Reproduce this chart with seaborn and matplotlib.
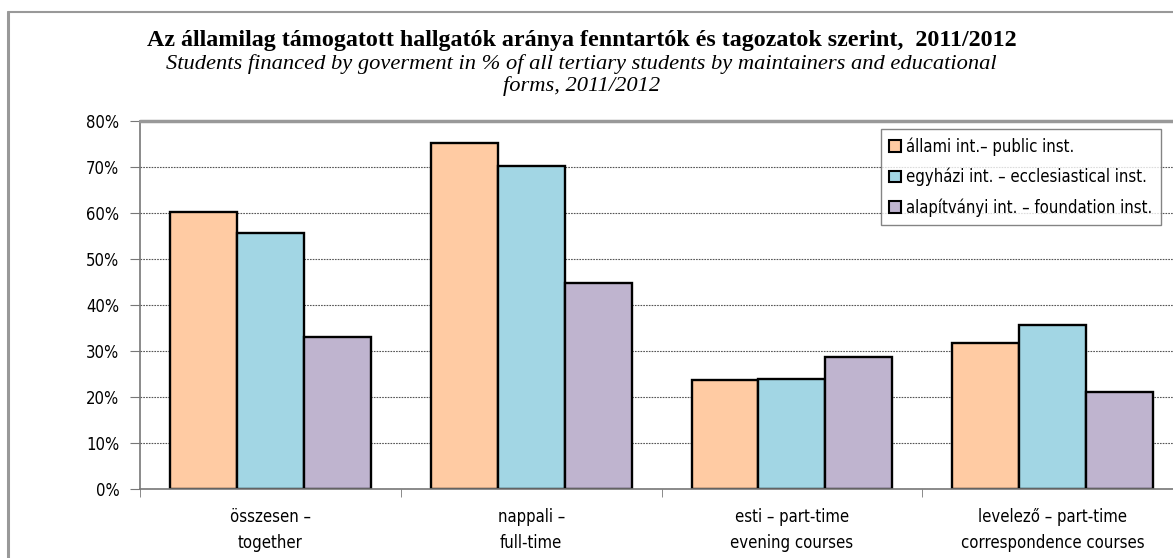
import os
import numpy as np
import pandas as pd
import matplotlib as mpl
mpl.use("Agg")
import matplotlib.pyplot as plt
from matplotlib import font_manager
from matplotlib.lines import Line2D
import seaborn as sns

sns.set_style("white")

# keskeny betűtípus keresése
cond = [f for f in font_manager.fontManager.ttflist
        if ("Condensed" in os.path.basename(f.fname) or "Narrow" in os.path.basename(f.fname))
        and f.style == "normal" and f.weight in (400, "normal", "regular")]
if cond:
    plt.rcParams['font.family'] = [cond[0].name, 'DejaVu Sans']
    plt.rcParams['font.stretch'] = cond[0].stretch
else:
    plt.rcParams['font.family'] = ['DejaVu Sans']
plt.rcParams['text.color'] = 'black'
plt.rcParams['xtick.color'] = 'black'
plt.rcParams['ytick.color'] = 'black'

# adatok
categories = ["összesen –\ntogether", "nappali –\nfull-time",
              "esti – part-time\nevening courses", "levelező – part-time\ncorrespondence courses"]
series = ["állami int.– public inst.", "egyházi int. – ecclesiastical inst.",
          "alapítványi int. – foundation inst."]
allami = [60.3, 75.3, 23.8, 31.7]
egyhazi = [55.8, 70.2, 23.9, 35.8]
alapitvanyi = [33.1, 44.8, 28.7, 21.1]
colors = ["#FFCBA3", "#A2D6E4", "#BFB4CF"]

df = pd.DataFrame({
    "cat": categories * 3,
    "ser": [series[0]] * 4 + [series[1]] * 4 + [series[2]] * 4,
    "val": allami + egyhazi + alapitvanyi,
})

fig = plt.figure(figsize=(11.73, 5.58), dpi=100)
ax = fig.add_axes([0.1195, 0.1237, 0.889, 0.6586])

sns.barplot(data=df, x="cat", y="val", hue="ser", palette=colors, saturation=1, width=0.77, gap=0,
            edgecolor="black", linewidth=1.7, ax=ax, legend=True, errorbar=None)

ax.set_xlim(-0.5, 3.5)
ax.set_ylim(0, 80)
ax.set_yticks(np.arange(0, 81, 10))
ax.set_yticklabels([f"{v}%" for v in range(0, 81, 10)], fontsize=12)
ax.yaxis.grid(True, linestyle=(0, (1.5, 1)), color="#555555", linewidth=0.8)
ax.set_axisbelow(True)
ax.set_xlabel("")
ax.set_ylabel("")
ax.tick_params(axis="x", length=0, pad=14, labelsize=12)
ax.set_xticklabels(categories, linespacing=1.55)
ax.set_xticks(np.arange(-0.5, 3.6, 1), minor=True)
ax.tick_params(axis="x", which="minor", length=6, color="#777777", direction="out", bottom=True)
ax.tick_params(axis="y", length=7, color="#777777", direction="out", left=True, pad=8)

for s in ["top", "right"]:
    ax.spines[s].set_visible(False)
ax.spines["left"].set_color("#777777")
ax.spines["left"].set_linewidth(1.2)
ax.spines["bottom"].set_color("#777777")
ax.spines["bottom"].set_linewidth(1.2)
ax.axhline(80, color="#999999", linewidth=2.5, zorder=5, clip_on=False)

leg = ax.legend(loc="upper left", bbox_to_anchor=(0.751, 0.769), bbox_transform=fig.transFigure,
                borderaxespad=0, fontsize=12, frameon=True, fancybox=False,
                edgecolor="#666666", handlelength=0.7, handleheight=0.7, handletextpad=0.3,
                labelspacing=0.72, borderpad=0.5)
leg.get_frame().set_linewidth(1.0)
for h in leg.legend_handles:
    h.set_linewidth(1.5)

fig.text(0.496, 0.927, "Az államilag támogatott hallgatók aránya fenntartók és tagozatok szerint,  2011/2012",
         ha="center", va="center", fontsize=17.3, fontweight="bold", family="Liberation Serif")
fig.text(0.496, 0.886, "Students financed by goverment in % of all tertiary students by maintainers and educational",
         ha="center", va="center", fontsize=16.2, style="italic", family="Liberation Serif")
fig.text(0.496, 0.845, "forms, 2011/2012",
         ha="center", va="center", fontsize=16.2, style="italic", family="Liberation Serif")

# keret
fig.add_artist(Line2D([0.0065, 0.0065], [0, 0.978], color="#999999", linewidth=2.2, transform=fig.transFigure))
fig.add_artist(Line2D([0.0065, 1], [0.978, 0.978], color="#999999", linewidth=1.5, transform=fig.transFigure))

fig.savefig("out.png", dpi=100)
